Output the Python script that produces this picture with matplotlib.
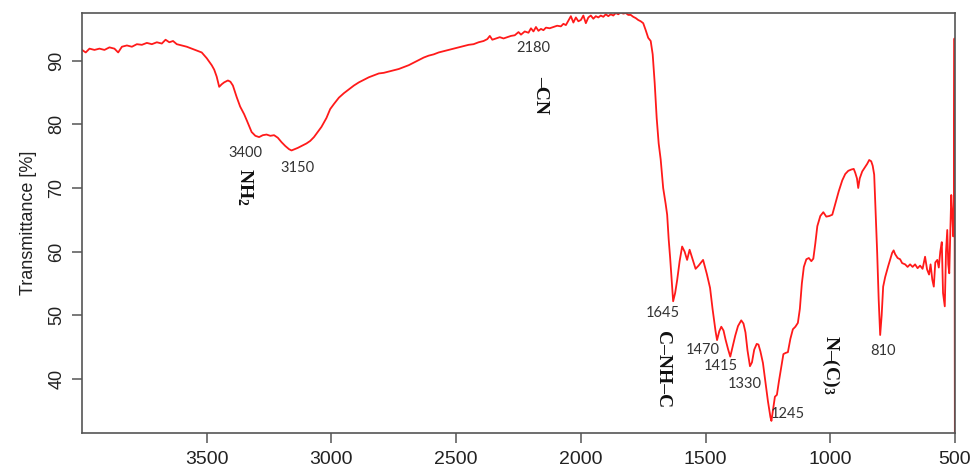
import matplotlib
matplotlib.use("Agg")
import matplotlib.pyplot as plt

# ---- data ----
wavenumber = [
    4000, 3985, 3970, 3950, 3930, 3910, 3890, 3870, 3855, 3840, 3820, 3800, 3780, 3760, 3740,
    3720, 3700, 3680, 3665, 3650, 3635, 3620, 3600, 3580, 3560, 3540, 3520, 3500, 3480, 3470,
    3460, 3450, 3440, 3430, 3415, 3405, 3395, 3380, 3366, 3350, 3338, 3320, 3305, 3290, 3275,
    3260, 3245, 3230, 3215, 3200, 3185, 3170, 3160, 3148, 3135, 3120, 3100, 3085, 3070, 3055,
    3040, 3020, 3005, 2990, 2970, 2950, 2930, 2910, 2890, 2870, 2850, 2830, 2810, 2790, 2770,
    2750, 2730, 2710, 2690, 2670, 2650, 2630, 2610, 2590, 2570, 2550, 2530, 2510, 2490, 2470,
    2450, 2430, 2410, 2390, 2375, 2365, 2355, 2340, 2325, 2310, 2295, 2280, 2265, 2250, 2240,
    2225, 2210, 2200, 2190, 2180, 2170, 2160, 2150, 2140, 2125, 2110, 2095, 2080, 2070, 2060,
    2050, 2040, 2030, 2020, 2010, 2000, 1990, 1980, 1970, 1960, 1950, 1940, 1930, 1920, 1910,
    1900, 1890, 1880, 1870, 1860, 1850, 1840, 1830, 1820, 1810, 1800, 1790, 1780, 1770, 1760,
    1750, 1740, 1730, 1720, 1712, 1704, 1696, 1688, 1680, 1670, 1660, 1654, 1648, 1642, 1636,
    1630, 1622, 1614, 1604, 1594, 1584, 1574, 1564, 1552, 1540, 1528, 1510, 1495, 1482, 1472,
    1460, 1454, 1445, 1437, 1428, 1420, 1410, 1401, 1392, 1381, 1370, 1357, 1348, 1340, 1332,
    1322, 1314, 1305, 1295, 1288, 1280, 1270, 1260, 1250, 1240, 1236, 1230, 1222, 1214, 1206,
    1196, 1188, 1178, 1170, 1160, 1150, 1140, 1130, 1122, 1114, 1106, 1096, 1086, 1076, 1068,
    1060, 1052, 1040, 1028, 1016, 1004, 992, 980, 966, 952, 940, 928, 916, 906, 900,
    893, 888, 882, 872, 862, 852, 844, 836, 830, 824, 818, 812, 806, 800, 794,
    788, 780, 768, 758, 752, 746, 740, 730, 720, 712, 700, 690, 680, 670, 660,
    650, 640, 630, 620, 612, 604, 598, 591, 585, 579, 571, 565, 559, 553, 548,
    541, 536, 531, 527, 523, 519, 515, 511, 507, 504, 503, 502, 501.5, 501, 500.5,
]
transmittance = [
    91.7, 91.3, 91.9, 91.7, 91.9, 91.7, 92.1, 91.9, 91.3, 92.2, 92.4, 92.2, 92.6, 92.5, 92.8,
    92.6, 92.9, 92.7, 93.3, 92.9, 93.1, 92.6, 92.4, 92.2, 91.9, 91.6, 91.3, 90.4, 89.3, 88.6,
    87.5, 85.9, 86.3, 86.6, 86.9, 86.7, 86.1, 84.3, 82.8, 81.6, 80.5, 78.8, 78.2, 78.0, 78.3,
    78.4, 78.2, 78.3, 77.9, 77.2, 76.6, 76.1, 75.9, 76.1, 76.3, 76.6, 77.0, 77.4, 78.0, 78.8,
    79.6, 81.0, 82.4, 83.2, 84.2, 84.9, 85.5, 86.1, 86.6, 87.0, 87.4, 87.7, 88.0, 88.1, 88.3,
    88.5, 88.7, 89.0, 89.3, 89.7, 90.1, 90.5, 90.8, 91.0, 91.3, 91.5, 91.7, 91.9, 92.1, 92.3,
    92.5, 92.6, 92.9, 93.1, 93.4, 93.9, 93.3, 93.5, 93.7, 93.5, 93.7, 93.9, 94.0, 94.5, 94.1,
    94.6, 94.4, 95.1, 94.6, 95.3, 94.7, 95.0, 94.8, 95.2, 95.1, 95.3, 95.5, 95.4, 95.8, 95.6,
    96.3, 97.0, 96.0, 96.8, 96.2, 96.4, 97.1, 95.9, 96.8, 97.1, 96.6, 97.0, 96.8, 97.1, 96.9,
    97.3, 97.0, 97.3, 97.1, 97.5, 97.3, 97.6, 97.4, 97.5, 97.2, 97.2, 96.9, 96.7, 96.4, 96.2,
    95.9, 94.8, 93.6, 93.1, 91.0, 86.5, 81.0, 77.0, 74.5, 70.0, 67.5, 65.8, 62.0, 59.0, 55.5,
    52.2, 53.5, 55.5, 58.5, 60.8, 60.0, 58.7, 60.3, 58.8, 57.3, 57.8, 58.7, 56.5, 54.3, 51.0,
    47.5, 46.1, 47.5, 48.2, 47.6, 46.2, 44.7, 43.5, 45.0, 46.8, 48.3, 49.2, 48.7, 47.3, 44.5,
    42.0, 42.6, 44.6, 45.5, 45.4, 44.3, 42.5, 39.5, 36.5, 34.0, 33.4, 35.0, 37.2, 37.5, 39.6,
    42.0, 43.9, 44.1, 44.2, 46.3, 47.8, 48.2, 48.8, 51.0, 55.0, 57.6, 58.8, 59.0, 58.5, 58.9,
    61.3, 64.0, 65.6, 66.2, 65.5, 65.6, 65.8, 67.5, 69.5, 71.2, 72.2, 72.7, 72.9, 73.0, 72.4,
    71.5, 70.0, 71.5, 72.6, 73.2, 73.8, 74.4, 74.2, 73.5, 72.1, 66.0, 59.8, 52.5, 46.9, 50.0,
    54.5, 56.0, 57.7, 59.0, 59.8, 60.2, 59.6, 59.0, 58.8, 58.2, 58.0, 57.6, 58.0, 57.6, 58.0,
    57.4, 57.8, 57.3, 59.2, 57.2, 56.4, 58.0, 55.6, 54.5, 58.3, 58.7, 57.5, 60.0, 61.5, 53.5,
    51.4, 60.0, 63.4, 58.0, 56.6, 63.0, 68.9, 66.0, 62.4, 68.0, 80.7, 93.5, 60.0, 45.0, 30.0,
]

peak_labels = ["3400", "3150", "2180", "1645", "1470", "1415", "1330", "1245", "810"]
peak_label_x = [3346, 3138, 2191, 1670, 1510, 1437, 1341, 1172, 787]
peak_label_y = [75.5, 73.2, 92.0, 50.4, 44.6, 42.0, 39.2, 34.5, 44.4]

group_labels = ["NH$_2$", "–CN", "C–NH–C", "N–(C)$_3$"]
group_label_x = [3346, 2163, 1674, 1000]
group_label_y = [70.2, 84.6, 41.4, 42.2]

x_ticks = [3500, 3000, 2500, 2000, 1500, 1000, 500]
y_ticks = [40, 50, 60, 70, 80, 90]

# ---- figure ----
plt.rcParams['font.family'] = ['Liberation Sans', 'DejaVu Sans']
plt.rcParams['mathtext.fontset'] = 'custom'
plt.rcParams['mathtext.rm'] = 'Liberation Serif:bold'
plt.rcParams['mathtext.it'] = 'Liberation Serif:bold'
plt.rcParams['mathtext.bf'] = 'Liberation Serif:bold'

fig = plt.figure(figsize=(9.71, 4.74), dpi=100)
ax = fig.add_axes([82 / 971, 1 - 433 / 474, (955 - 82) / 971, (433 - 13) / 474])

ax.plot(wavenumber, transmittance, color='#ff1a1a', lw=1.3)

ax.set_xlim(4000, 500)
ax.set_ylim(31.5, 97.5)
ax.set_xticks(x_ticks)
ax.set_yticks(y_ticks)

frame_col = '#555555'
for s in ax.spines.values():
    s.set_color(frame_col)
    s.set_linewidth(1.2)
ax.tick_params(axis='both', direction='out', length=7, width=1.1, color=frame_col,
               labelcolor='#222222')
ax.tick_params(axis='x', pad=6, labelsize=14)
ax.tick_params(axis='y', pad=5, labelsize=13)
for t in ax.get_yticklabels():
    t.set_rotation(90)
    t.set_va('center')

ax.set_ylabel('Transmittance [%]', fontsize=13, color='#222222', labelpad=8)

for lab, x, y in zip(peak_labels, peak_label_x, peak_label_y):
    ax.text(x, y, lab, fontsize=10.5, family=['Lato', 'DejaVu Sans'], color='#333333',
            ha='center', va='center')

for lab, x, y in zip(group_labels, group_label_x, group_label_y):
    ax.text(x, y, lab, fontsize=14, family=['Liberation Serif', 'DejaVu Serif'],
            fontweight='bold', color='#111111', rotation=-90, ha='center', va='center')

fig.savefig('out.png', dpi=100)
